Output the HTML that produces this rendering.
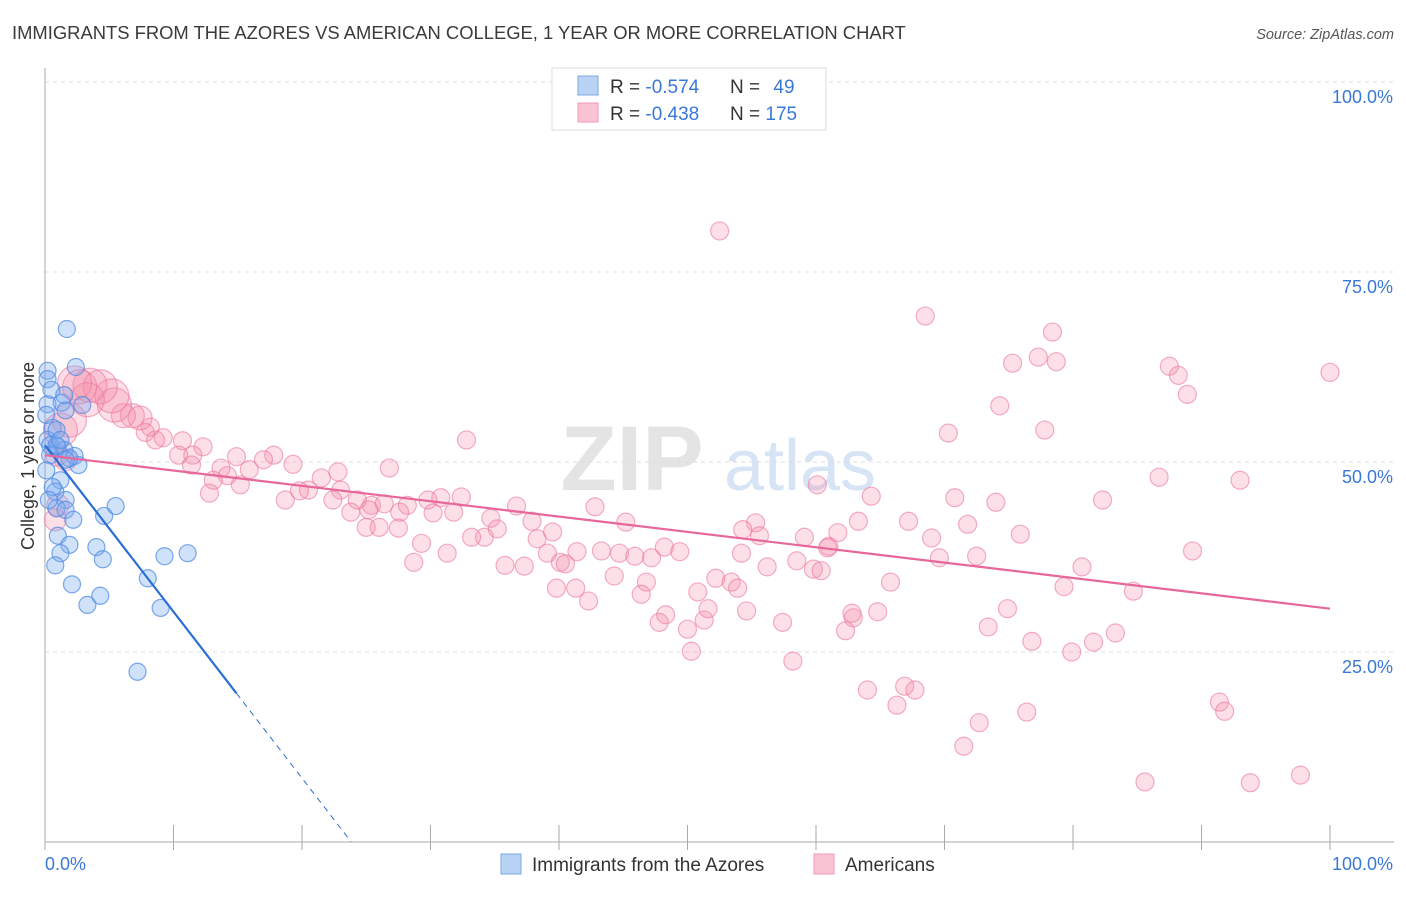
<!DOCTYPE html>
<html><head><meta charset="utf-8">
<style>
body{margin:0;background:#fff;font-family:"Liberation Sans",sans-serif;}
svg text{font-family:"Liberation Sans",sans-serif;}
</style></head>
<body>
<svg id="chart" width="1406" height="892" viewBox="0 0 1406 892" xmlns="http://www.w3.org/2000/svg">
<text x="12" y="39" font-size="18.4" fill="#3a3a3a">IMMIGRANTS FROM THE AZORES VS AMERICAN COLLEGE, 1 YEAR OR MORE CORRELATION CHART</text>
<text x="1394" y="39" font-size="14.5" fill="#555" font-style="italic" text-anchor="end">Source: ZipAtlas.com</text>
<g>
<text x="632" y="490" font-size="92" fill="#e4e4e4" font-family="Liberation Serif" text-anchor="middle" font-weight="bold">ZIP</text>
<text x="800" y="490" font-size="72" fill="#d6e4f5" text-anchor="middle">atlas</text>
</g>
<g id="grid"></g>
<g id="axes"></g>
<g id="pink"></g>
<g id="blue"></g>
<g id="lines"></g>
<g>
<rect x="552" y="68" width="274" height="62" fill="#fff" stroke="#ddd"/>
<rect x="578" y="76" width="20" height="19" fill="#b9d3f5" stroke="#7aa8e6"/>
<rect x="578" y="103" width="20" height="19" fill="#fac4d4" stroke="#f29ab8"/>
<text x="610" y="93" font-size="19" fill="#333">R = <tspan fill="#3a78d8">-0.574</tspan></text>
<text x="730" y="93" font-size="19" fill="#333">N = <tspan fill="#3a78d8" dx="8">49</tspan></text>
<text x="610" y="120" font-size="19" fill="#333">R = <tspan fill="#3a78d8">-0.438</tspan></text>
<text x="730" y="120" font-size="19" fill="#333">N = <tspan fill="#3a78d8">175</tspan></text>
</g>
<g>
<rect x="501" y="854" width="20" height="20" fill="#b9d3f5" stroke="#7aa8e6"/>
<text x="532" y="871" font-size="19" fill="#333">Immigrants from the Azores</text>
<rect x="814" y="854" width="20" height="20" fill="#fac4d4" stroke="#f29ab8"/>
<text x="845" y="871" font-size="19" fill="#333">Americans</text>
</g>
<text transform="translate(34,456) rotate(-90)" font-size="18" fill="#333" text-anchor="middle">College, 1 year or more</text>
</svg>
<script>
const yTicks=[25,50,75,100];
const yTickLabels=["25.0%","50.0%","75.0%","100.0%"];
const xTickLabels=["0.0%","100.0%"];
const blueX=[1.7,2.4,0.2,0.2,1.3,1.6,0.2,2.9,0.6,0.2,0.4,1.0,1.5,2.3,2.6,1.2,0.8,1.6,0.9,1.6,2.2,4.6,5.5,1.0,1.9,4.0,1.2,4.5,0.8,2.1,3.3,4.3,8.0,9.3,11.1,9.0,7.2,0.4,0.5,0.1,0.9,1.5,1.9,0.9,1.2,0.1,0.6,1.6,0.3];
const blueY=[67.5,62.5,62.0,60.9,57.8,56.8,57.6,57.5,54.5,52.9,52.2,52.0,51.6,50.8,49.6,47.6,46.1,45.0,43.9,43.7,42.4,42.9,44.2,40.3,39.1,38.8,38.0,37.2,36.4,33.9,31.2,32.4,34.7,37.6,38.0,30.8,22.4,50.9,59.5,48.9,52.2,58.8,50.5,54.2,52.9,56.2,46.7,50.3,45.0];
const pinkX=[52.5,68.5,78.4,75.3,77.3,78.7,87.5,88.2,100,88.9,74.3,70.3,77.8,32.8,86.7,93.0,60.1,64.3,70.8,74.0,82.3,67.2,63.3,71.8,69.0,75.9,69.6,72.5,89.3,80.7,79.3,84.7,74.9,65.8,64.8,62.9,62.3,73.4,76.8,79.9,81.6,83.3,58.2,64.0,66.3,66.9,67.7,71.5,72.7,76.4,91.4,91.8,85.6,93.8,97.7,
17.8,19.3,21.5,22.8,26.8,23.0,20.5,19.8,18.7,22.4,24.3,25.4,26.4,28.2,29.8,30.8,32.4,23.8,25.2,27.6,30.2,31.8,25.0,26.0,27.5,34.7,36.7,37.9,35.2,34.2,33.2,38.3,39.5,42.8,45.2,39.1,40.1,41.4,40.5,43.3,44.7,45.9,47.2,48.2,49.4,29.3,31.3,28.7,35.8,37.3,44.3,46.8,39.8,41.3,42.3,46.4,50.8,52.2,53.4,53.9,54.2,55.3,54.3,55.6,56.2,58.5,59.8,60.4,59.1,61.0,61.7,60.9,48.3,47.8,50.0,51.3,51.6,54.6,57.4,50.3,62.8,
17.0,15.9,15.2,14.9,13.7,14.2,13.1,12.8,12.3,11.5,11.4,10.7,10.4,9.2,8.6,8.2,7.8,7.4,6.8,6.1,5.4,5.2,4.3,3.5,2.7,2.3,3.3,1.9,1.2,1.6,0.9,1.0,0.8];
const pinkY=[80.4,69.2,67.1,63.0,63.8,63.2,62.6,61.4,61.8,58.9,57.4,53.8,54.2,52.9,48.0,47.6,47.0,45.5,45.3,44.7,45.0,42.2,42.2,41.8,40.0,40.5,37.4,37.6,38.3,36.2,33.6,33.0,30.7,34.2,30.3,29.5,27.8,28.3,26.4,25.0,26.3,27.5,23.8,20.0,18.0,20.5,20.0,12.6,15.7,17.1,18.4,17.2,7.9,7.8,8.8,
50.9,49.7,47.9,48.7,49.2,46.3,46.3,46.2,45.0,45.0,45.0,44.3,44.5,44.3,45.0,45.3,45.4,43.4,43.7,43.4,43.3,43.4,41.4,41.4,41.3,42.6,44.2,42.2,41.2,40.1,40.1,39.9,40.8,44.1,42.1,38.0,36.8,38.2,36.6,38.3,38.0,37.6,37.4,38.8,38.2,39.3,38.0,36.8,36.4,36.3,35.0,34.2,33.4,33.4,31.7,32.6,32.9,34.7,34.2,33.4,38.0,42.0,41.1,40.3,36.2,37.0,35.9,35.7,40.1,38.9,40.7,38.7,29.9,28.9,28.0,29.2,30.7,30.4,28.9,25.1,30.1,
50.3,49.0,47.0,50.7,49.2,48.2,47.6,45.9,52.0,50.9,49.6,52.8,50.9,53.2,52.9,54.6,53.9,55.8,56.1,56.1,57.5,58.7,59.9,60.1,59.9,60.4,58.2,55.5,54.2,50.3,50.9,44.3,42.4];
const blueTrend=[52.2,-2.19];
const pinkTrend=[50.9,-0.202];
const blueSolidEnd=14.9;

const X=v=>45+v*12.85, Y=v=>842-v*7.6;
const NS="http://www.w3.org/2000/svg";
function mk(tag,attrs,parent){const e=document.createElementNS(NS,tag);for(const k in attrs)e.setAttribute(k,attrs[k]);parent.appendChild(e);return e;}
const grid=document.getElementById('grid'),axes=document.getElementById('axes');
yTicks.forEach((t,i)=>{
  const l=mk('line',{x1:45,x2:1394,y1:Y(t),y2:Y(t),stroke:'#ddd','stroke-dasharray':'4,4'},grid);
  
  
  const tx=mk('text',{x:1393,y:Y(t)+21,'font-size':18,fill:'#3a78d8','text-anchor':'end'},axes);
  tx.textContent=yTickLabels[i];
  
  
});
mk('line',{x1:45,x2:45,y1:68,y2:842,stroke:'#aaa'},axes);
mk('line',{x1:45,x2:1394,y1:842,y2:842,stroke:'#aaa'},axes);
for(let i=0;i<=10;i++){
  const t=mk('line',{x1:X(i*10),x2:X(i*10),y1:825,y2:850,stroke:'#aaa'},axes);
  
  
}
[[45,'start',0],[1393,'end',1]].forEach(([x,a,i])=>{
  const t=mk('text',{x:x,y:870,'font-size':18,fill:'#3a78d8','text-anchor':a},axes);
  t.textContent=xTickLabels[i];
  
  
});
const pg=document.getElementById('pink');
pinkX.forEach((x,i)=>{
  let r=9; if(x<7.5&&pinkY[i]>53) r=x<5.5?17:12; else if(x<2) r=11;
  const c=mk('circle',{cx:X(x),cy:Y(pinkY[i]),r:r,fill:'rgba(244,140,170,0.28)',stroke:'rgba(236,120,160,0.6)','stroke-width':1.2},pg);
  
  
});
const bg=document.getElementById('blue');
blueX.forEach((x,i)=>{
  const c=mk('circle',{cx:X(x),cy:Y(blueY[i]),r:8.5,fill:'rgba(120,170,240,0.35)',stroke:'rgba(80,140,225,0.75)','stroke-width':1.2},bg);
  
  
});
const lg=document.getElementById('lines');
const bl=mk('line',{x1:X(0),y1:Y(blueTrend[0]),x2:X(blueSolidEnd),y2:Y(blueTrend[0]+blueTrend[1]*blueSolidEnd),stroke:'#2a6fd6','stroke-width':2.2},lg);


const xz=-blueTrend[0]/blueTrend[1];
const bd=mk('line',{x1:X(blueSolidEnd),y1:Y(blueTrend[0]+blueTrend[1]*blueSolidEnd),x2:X(xz),y2:Y(0),stroke:'#2a6fd6','stroke-width':1,'stroke-dasharray':'6,5'},lg);


const pl=mk('line',{x1:X(0),y1:Y(pinkTrend[0]),x2:X(100),y2:Y(pinkTrend[0]+pinkTrend[1]*100),stroke:'#e8679a','stroke-width':2.2},lg);


const topGrid=mk('line',{x1:45,x2:1394,y1:Y(100),y2:Y(100),stroke:'#ddd','stroke-dasharray':'4,4'},grid);


</script>
</body></html>
